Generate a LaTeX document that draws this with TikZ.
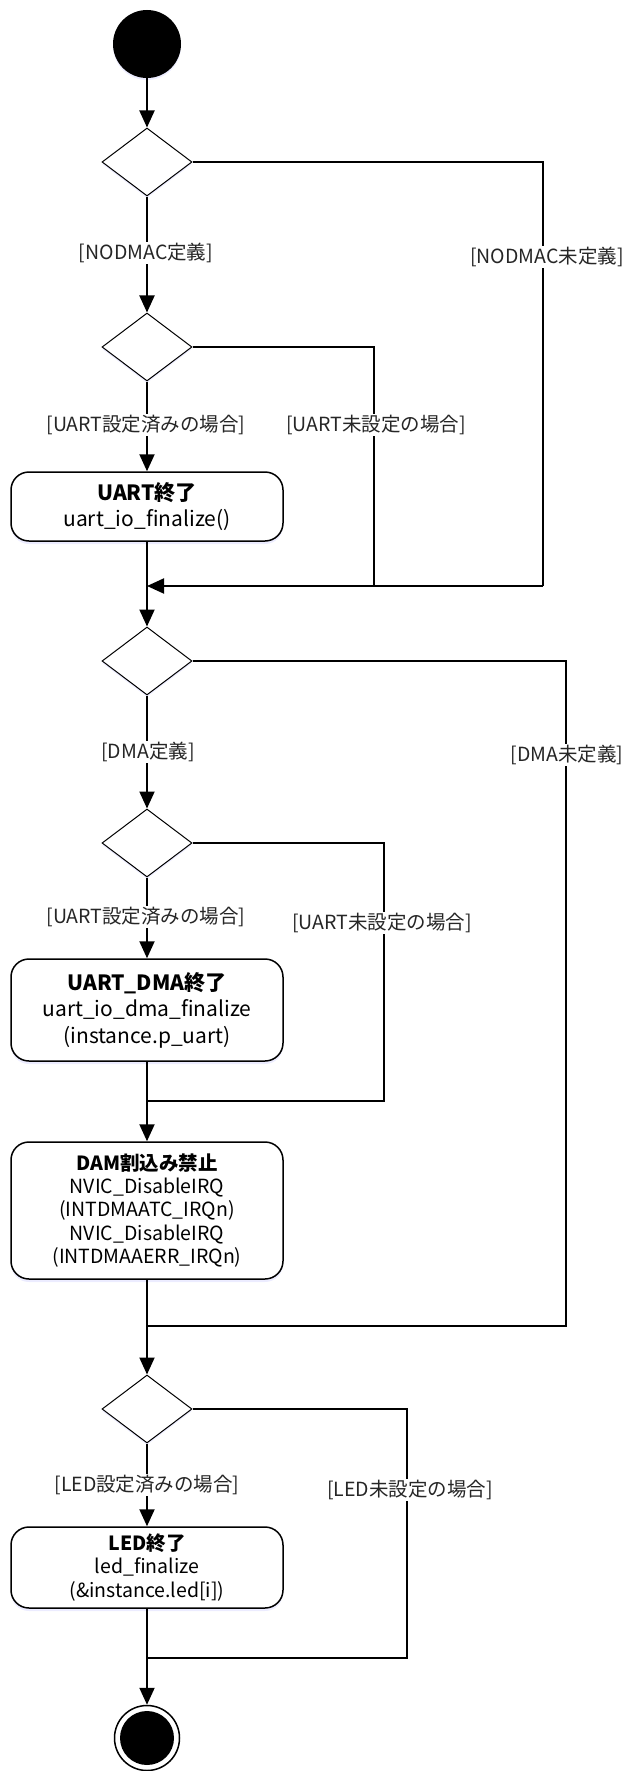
\documentclass[tikz,border=0pt]{standalone}
\usepackage{fontspec}
\setmainfont{Noto Sans CJK JP}
\usetikzlibrary{shapes.geometric,arrows.meta,shadows}
\begin{document}
\begin{tikzpicture}[x=1pt,y=-1pt,
  conn/.style={line width=2pt,draw=black},
  arr/.style={conn,-{Triangle[length=17pt,width=15pt]}},
  dec/.style={shape=diamond,draw=black,line width=1pt,fill=white,minimum width=90pt,minimum height=68pt,inner sep=0pt,
    drop shadow={shadow xshift=0pt,shadow yshift=-2pt,fill=blue!12,opacity=0.6}},
  act/.style={rectangle,rounded corners=18pt,draw=black,line width=1.5pt,fill=white,minimum width=272pt,align=center,inner sep=0pt,
    drop shadow={shadow xshift=0pt,shadow yshift=-3pt,fill=blue!12,opacity=0.6}},
  bigtxt/.style={font=\fontsize{21}{26.5}\selectfont},
  smalltxt/.style={font=\fontsize{19.5}{23.3}\selectfont},
  guard/.style={fill=white,inner sep=1.5pt,text=black!85,font=\fontsize{19.5}{22}\selectfont}
]
\useasboundingbox (0,0) rectangle (629,1771);
% start / end
\node[circle,fill=black,minimum size=68pt,inner sep=0pt,
  drop shadow={shadow xshift=0pt,shadow yshift=-2pt,fill=blue!12,opacity=0.6}] (s) at (147,44) {};
\node[circle,draw=black,line width=1.5pt,fill=white,minimum size=65pt,inner sep=0pt] (e) at (147,1738) {};
\node[circle,fill=black,minimum size=54pt,inner sep=0pt] (ei) at (147,1738) {};
% decisions
\node[dec] (d1) at (147,162) {};
\node[dec] (d2) at (147,347) {};
\node[dec] (d3) at (147,661) {};
\node[dec] (d4) at (147,843) {};
\node[dec] (d5) at (147,1409) {};
% actions
\node[act,bigtxt,minimum height=69pt] (b1) at (147,506.5) {\textbf{UART終了}\\uart\_io\_finalize()};
\node[act,bigtxt,minimum height=102pt] (b2) at (147,1010) {\textbf{UART\_DMA終了}\\uart\_io\_dma\_finalize\\(instance.p\_uart)};
\node[act,smalltxt,minimum height=137pt] (b3) at (147,1210.5) {\textbf{DAM割込み禁止}\\NVIC\_DisableIRQ\\(INTDMAATC\_IRQn)\\NVIC\_DisableIRQ\\(INTDMAAERR\_IRQn)};
\node[act,smalltxt,minimum height=81pt] (b4) at (147,1567.5) {\textbf{LED終了}\\led\_finalize\\(\&instance.led[i])};
% junction coordinates
\coordinate (r1) at (543,162);
\coordinate (m1r) at (543,586);
\coordinate (r2b) at (374,586);
\coordinate (m1) at (147,586);
\coordinate (r4b) at (384,1101);
\coordinate (m2) at (147,1101);
\coordinate (r3b) at (566,1326);
\coordinate (m3) at (147,1326);
\coordinate (r5b) at (407,1658);
\coordinate (m4) at (147,1658);
% connectors
\draw[arr] (s) -- (d1);
\draw[arr] (d1) -- (d2);
\draw[arr] (d2) -- (b1);
\draw[conn] (d1.east) -- (r1) -- (m1r);
\draw[conn] (d2.east) -| (r2b);
\draw[arr] (m1r) -- (m1);
\draw[conn] (b1) -- (m1);
\draw[arr] (m1) -- (d3);
\draw[arr] (d3) -- (d4);
\draw[arr] (d4) -- (b2);
\draw[conn] (d4.east) -| (r4b) -- (m2);
\draw[conn] (b2) -- (m2);
\draw[arr] (m2) -- (b3);
\draw[conn] (d3.east) -| (r3b) -- (m3);
\draw[conn] (b3) -- (m3);
\draw[arr] (m3) -- (d5);
\draw[arr] (d5) -- (b4);
\draw[conn] (d5.east) -| (r5b) -- (m4);
\draw[conn] (b4) -- (m4);
\draw[arr] (m4) -- (e);
% guards
\node[guard] (l1) at (146,253) {[NODMAC定義]};
\node[guard] (l2) at (547,257) {[NODMAC未定義]};
\node[guard] (l3) at (146,425) {[UART設定済みの場合]};
\node[guard] (l4) at (376,425) {[UART未設定の場合]};
\node[guard] (l5) at (148,752) {[DMA定義]};
\node[guard] (l6) at (567,755) {[DMA未定義]};
\node[guard] (l7) at (146,917) {[UART設定済みの場合]};
\node[guard] (l8) at (382,923) {[UART未設定の場合]};
\node[guard] (l9) at (147,1485) {[LED設定済みの場合]};
\node[guard] (l10) at (410,1490) {[LED未設定の場合]};
\end{tikzpicture}
\end{document}
